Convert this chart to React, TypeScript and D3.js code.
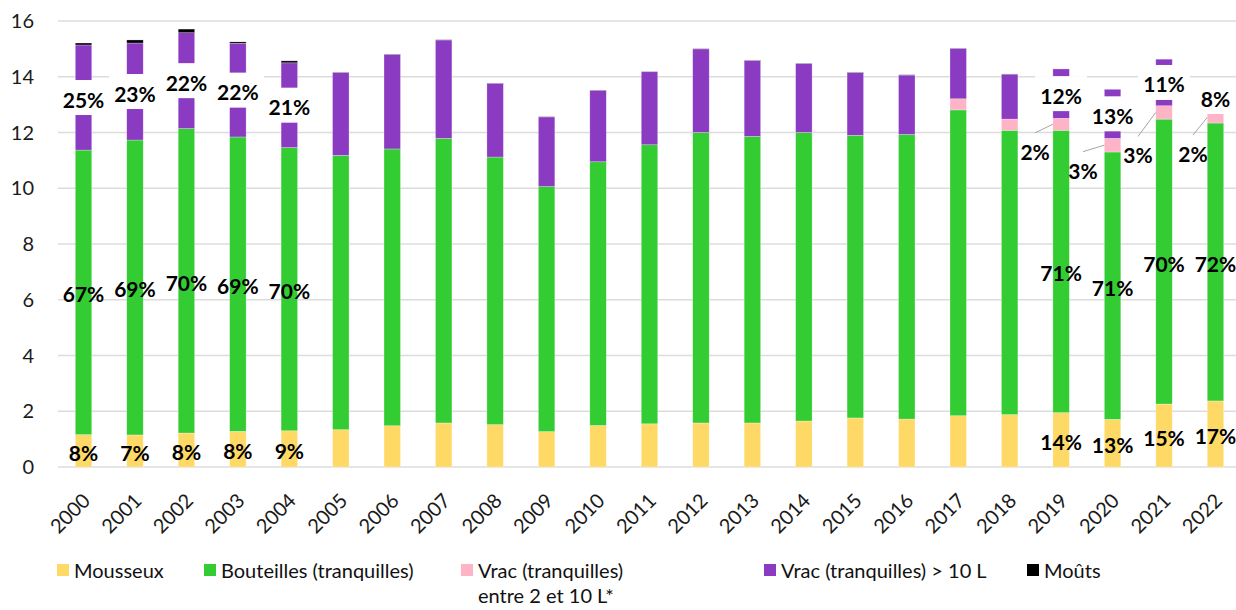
import React from "react";
import * as d3 from "d3";

const years = ["2000","2001","2002","2003","2004","2005","2006","2007","2008","2009","2010","2011","2012","2013","2014","2015","2016","2017","2018","2019","2020","2021","2022"];
const mousseux = [1.16,1.15,1.22,1.28,1.30,1.34,1.48,1.58,1.52,1.27,1.49,1.55,1.58,1.58,1.65,1.76,1.72,1.84,1.88,1.95,1.71,2.26,2.37];
const bouteilles = [10.21,10.58,10.92,10.56,10.16,9.84,9.93,10.21,9.60,8.79,9.46,10.01,10.42,10.28,10.35,10.14,10.21,10.97,10.20,10.13,9.59,10.22,9.97];
const vrac2a10 = [0,0,0,0,0,0,0,0,0,0,0,0,0,0,0,0,0,0.40,0.40,0.43,0.49,0.48,0.40];
const vracSup10 = [3.77,3.48,3.44,3.36,3.04,2.97,3.39,3.53,2.64,2.50,2.56,2.62,3.00,2.72,2.47,2.25,2.13,1.80,1.61,1.77,1.76,1.67,1.10];
const mouts = [0.07,0.11,0.13,0.05,0.07,0.01,0.01,0.01,0.01,0.01,0.01,0.01,0.01,0.01,0.01,0.01,0.01,0.01,0.01,0,0,0,0];

const N = null;
const mousseuxPct = ["8%","7%","8%","8%","9%",N,N,N,N,N,N,N,N,N,N,N,N,N,N,"14%","13%","15%","17%"];
const bouteillesPct = ["67%","69%","70%","69%","70%",N,N,N,N,N,N,N,N,N,N,N,N,N,N,"71%","71%","70%","72%"];
const vrac2a10Pct = [N,N,N,N,N,N,N,N,N,N,N,N,N,N,N,N,N,N,N,"2%","3%","3%","2%"];
const vracSup10Pct = ["25%","23%","22%","22%","21%",N,N,N,N,N,N,N,N,N,N,N,N,N,N,"12%","13%","11%","8%"];

const yTicks = [0, 2, 4, 6, 8, 10, 12, 14, 16];

const seriesNames = ["Mousseux", "Bouteilles (tranquilles)", "Vrac (tranquilles) entre 2 et 10 L*", "Vrac (tranquilles) > 10 L", "Moûts"];
const seriesKeys = ["mousseux", "bouteilles", "vrac2a10", "vracSup10", "mouts"];
const colors = ["#FFD966", "#33CC33", "#FFB3C6", "#8A3BC2", "#000000"];

// layout offsets (px) for the outside pink labels, relative to bar centre / segment middle
const pinkLabelOffsets: Record<string, [number, number]> = {
  "2019": [-26, 28.5],
  "2020": [-29.6, 26.5],
  "2021": [-26, 44],
  "2022": [-22.5, 37.6],
};

const W = 1236, H = 610;
const FONT = "Lato, 'DejaVu Sans', sans-serif";

export default function App() {
  const table = years.map((y, i) => ({
    year: y,
    mousseux: mousseux[i],
    bouteilles: bouteilles[i],
    vrac2a10: vrac2a10[i],
    vracSup10: vracSup10[i],
    mouts: mouts[i],
  }));
  const stacked = d3.stack<any>().keys(seriesKeys)(table);

  const x = d3.scaleBand<string>().domain(years).range([57.8, 1241.2]).paddingInner(0.68).paddingOuter(0.34);
  const y = d3.scaleLinear().domain([0, 16]).range([467, 21]);
  const bw = x.bandwidth();

  const pctArrays = [mousseuxPct, bouteillesPct, vrac2a10Pct, vracSup10Pct];

  const legendX = [57, 204, 461, 764, 1027];

  return (
    <svg width={W} height={H} style={{ position: "absolute", left: 0, top: 0, display: "block", background: "#fff" }} fontFamily={FONT}>
      {/* grid */}
      {yTicks.map((t) => (
        <line key={"g" + t} x1={58} x2={W} y1={y(t)} y2={y(t)} stroke="#dcdcdc" strokeWidth={1.3} />
      ))}
      {/* y labels */}
      {yTicks.map((t) => (
        <text key={"yl" + t} x={34} y={y(t)} dy="0.35em" textAnchor="end" fontSize={20} fill="#1a1a1a">{t}</text>
      ))}
      {/* bars */}
      {stacked.map((s, si) => (
        <g key={s.key} fill={colors[si]}>
          {s.map((d, i) => (
            d[1] - d[0] > 0 ? (
              <rect key={i} x={x(years[i])!} y={y(d[1])} width={bw} height={y(d[0]) - y(d[1])}
                stroke="#fff" strokeOpacity={0.45} strokeWidth={0.6} />
            ) : null
          ))}
        </g>
      ))}
      {/* labels */}
      {stacked.slice(0, 4).map((s, si) => (
        <g key={"lab" + s.key}>
          {s.map((d, i) => {
            const lab = pctArrays[si][i];
            if (!lab) return null;
            const cx = x(years[i])! + bw / 2;
            const mid = y((d[0] + d[1]) / 2);
            if (si === 2) {
              const [dx, dy] = pinkLabelOffsets[years[i]];
              const lx = cx + dx, ly = mid + dy;
              return (
                <g key={i}>
                  <line x1={x(years[i])!} y1={mid} x2={lx} y2={ly - 20} stroke="#a6a6a6" strokeWidth={1} />
                  <text x={lx} y={ly + 7} textAnchor="middle" fontSize={21} fontWeight={700} fill="#000">{lab}</text>
                </g>
              );
            }
            return (
              <g key={i}>
                {si === 3 && <rect x={cx - 26} y={mid - 17.5} width={52} height={35} fill="#fff" />}
                <text x={cx} y={mid + 10} textAnchor="middle" fontSize={21} fontWeight={700} fill="#000">{lab}</text>
              </g>
            );
          })}
        </g>
      ))}
      {/* x labels */}
      {years.map((yr) => (
        <text key={"xl" + yr} transform={`translate(${x(yr)! + bw / 2 + 3},${497}) rotate(-45)`} textAnchor="end" dy="0.35em" fontSize={20} fill="#1a1a1a">{yr}</text>
      ))}
      {/* legend */}
      {seriesNames.map((name, i) => {
        const lx = legendX[i];
        const lines = i === 2 ? ["Vrac (tranquilles)", "entre 2 et 10 L*"] : [name];
        return (
          <g key={"lg" + i}>
            <rect x={lx} y={564} width={12} height={12} fill={colors[i]} />
            {lines.map((ln, k) => (
              <text key={k} x={lx + 17} y={578 + k * 25} fontSize={20} fill="#111">{ln}</text>
            ))}
          </g>
        );
      })}
    </svg>
  );
}
